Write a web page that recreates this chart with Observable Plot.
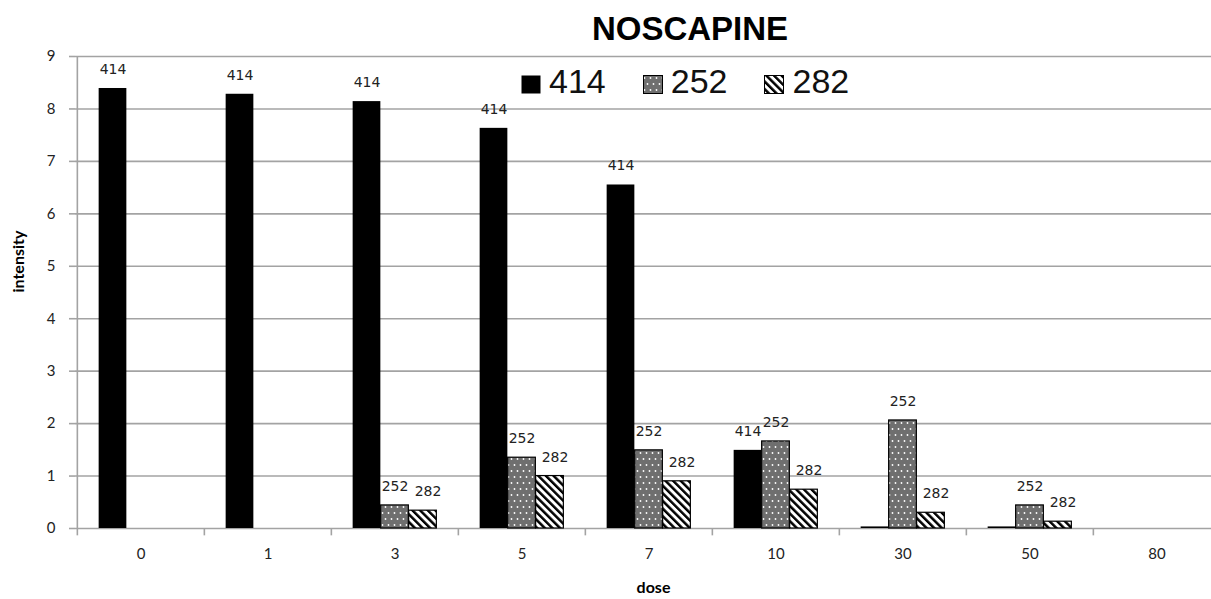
<!DOCTYPE html>
<html><head><meta charset="utf-8">
<script src="https://cdn.jsdelivr.net/npm/d3@7"></script>
<script src="https://cdn.jsdelivr.net/npm/@observablehq/plot@0.6"></script>
<style>
html,body{margin:0;padding:0;background:#fff;}
#wrap{position:relative;width:1211px;height:599px;overflow:hidden;}
#title{height:36px;position:relative;z-index:2;}
#title span{position:absolute;left:690px;top:12px;transform:translateX(-50%);font:bold 33px/33px "Liberation Sans",Arial,sans-serif;color:#000;white-space:nowrap;}
#legend{position:absolute;z-index:2;left:521px;top:64px;display:flex;align-items:flex-start;font:34px/34px "Liberation Sans",Arial,sans-serif;color:#111;}
#legend .item{display:flex;align-items:flex-start;margin-right:37px;}
#legend svg{margin-top:11px;margin-right:8px;}
#defs{position:absolute;width:0;height:0;}
#chart{position:relative;z-index:1;}
#chart svg{display:block;}
</style>
</head><body>
<svg id="defs" width="0" height="0">
  <defs>
    <pattern id="dots" patternUnits="userSpaceOnUse" width="6" height="12">
      <rect width="6" height="12" fill="#6f6f6f"></rect>
      <circle cx="1.5" cy="3" r="0.9" fill="#fff"></circle>
      <circle cx="4.5" cy="9" r="0.9" fill="#fff"></circle>
    </pattern>
    <pattern id="stripes" patternUnits="userSpaceOnUse" width="5.4" height="5.4" patternTransform="rotate(-45)">
      <rect width="5.4" height="5.4" fill="#fff"></rect>
      <rect width="2.5" height="5.4" fill="#000"></rect>
    </pattern>
  </defs>
</svg>
<div id="wrap">
  <div id="title"><span>NOSCAPINE</span></div>
  <div id="legend"></div>
  <div id="chart"></div>
</div>
<script>
const doses = ["0", "1", "3", "5", "7", "10", "30", "50", "80"];
const s414 = [8.39, 8.28, 8.14, 7.63, 6.55, 1.49, 0.03, 0.03, 0];
const s252 = [0, 0, 0.44, 1.35, 1.49, 1.66, 2.06, 0.44, 0];
const s282 = [0, 0, 0.34, 1.00, 0.90, 0.74, 0.30, 0.13, 0];
const seriesNames = ["414", "252", "282"];
const yTicks = [0, 1, 2, 3, 4, 5, 6, 7, 8, 9];

const fills = {"414": "#000", "252": "url(#dots)", "282": "url(#stripes)"};
const values = {"414": s414, "252": s252, "282": s282};

const rows = [];
seriesNames.forEach((s, si) => {
  doses.forEach((d, i) => rows.push({dose: d, series: s, si, value: values[s][i]}));
});

const barW = 28;
const band = 127.3;
const inset = (band - barW) / 2;
const gridColor = "#a3a3a3";

const barMarks = seriesNames.map((s, si) => Plot.barY(rows.filter(r => r.series === s), {
  x: "dose", y: "value",
  fill: fills[s],
  stroke: "#000",
  strokeWidth: s === "414" ? 0 : 1.2,
  insetLeft: inset, insetRight: inset,
  dx: (si - 1) * barW
}));
const labelMarks = seriesNames.map((s, si) => Plot.text(rows.filter(r => r.series === s && r.value >= 0.1), {
  x: "dose", y: "value", text: "series",
  dx: (si - 1) * barW + (s === "282" ? 5 : 0),
  dy: -19,
  fontFamily: "DejaVu Sans", fontSize: 14, fill: "#222"
}));

const chart = Plot.plot({
  width: 1211,
  height: 563,
  marginTop: 20,
  marginBottom: 71,
  marginLeft: 75,
  marginRight: -10,
  style: {fontFamily: "Lato, 'Open Sans', sans-serif", fontSize: "15px", background: "transparent", color: "#222"},
  x: {type: "band", domain: doses, padding: 0},
  y: {domain: [0, 9]},
  marks: [
    Plot.ruleY(yTicks, {y: d => d, stroke: gridColor, strokeWidth: 1.6}),
    Plot.ruleX(doses, {x: d => d, dx: -band / 2, y1: 0, y2: -0.14, stroke: gridColor, strokeWidth: 1.6}),
    Plot.ruleX([doses[0]], {x: d => d, dx: -band / 2, y1: 9, y2: 0, stroke: gridColor, strokeWidth: 1.6}),
    Plot.axisY(yTicks, {tickSize: 6, tickPadding: 14, tickFormat: d => String(d), stroke: gridColor, strokeWidth: 1.6, label: null, fontSize: 15, fill: "#222"}),
    Plot.axisX({tickSize: 0, tickPadding: 20, label: null, fontSize: 15, fill: "#222"}),
    ...barMarks,
    ...labelMarks,
    Plot.text(["intensity"], {frameAnchor: "left", rotate: -90, dx: -57, fontWeight: "bold", fontSize: 16, fill: "#000"}),
    Plot.text(["dose"], {frameAnchor: "bottom", dx: 5, dy: 64, fontWeight: "bold", fontSize: 16, fill: "#000"})
  ]
});
document.getElementById("chart").appendChild(chart);

const legend = document.getElementById("legend");
seriesNames.forEach(s => {
  const item = document.createElement("div");
  item.className = "item";
  item.innerHTML = `<svg width="20" height="19"><rect x="0.5" y="0.5" width="19" height="18" fill="${fills[s]}" stroke="#000" stroke-width="${s === '414' ? 0 : 1}"></rect></svg><span>${s}</span>`;
  legend.appendChild(item);
});
</script>
</body></html>
